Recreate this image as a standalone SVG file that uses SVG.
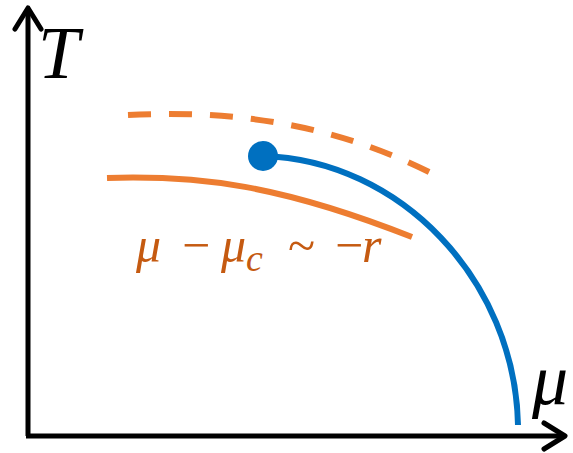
<svg xmlns="http://www.w3.org/2000/svg" width="573" height="453" viewBox="0 0 573 453">
<style>
.axis{stroke:#000;stroke-width:5;fill:none}
.head{stroke:#000;stroke-width:5;fill:none;stroke-linecap:round;stroke-linejoin:round}
.orange{stroke:#ED7D31;stroke-width:6;fill:none}
.blue{stroke:#0070C0;stroke-width:6;fill:none}
.lbl{font-family:"Liberation Serif","DejaVu Serif",serif;font-style:italic}
.lab{fill:#C55A11;font-family:"Liberation Serif","DejaVu Serif",serif;font-size:50px}
</style>
<rect width="573" height="453" fill="#fff"/>
<g id="axes">
<path class="axis" d="M28,436 V8 M26,436 H565"/>
<path class="head" d="M15,29 L28,8 L41,29"/>
<path class="head" d="M544,423 L565,436 L544,449"/>
</g>
<g id="connectors">
<path class="orange" stroke-dasharray="23 18" d="M128,115 C230,110 330,122 433,174"/>
<path class="orange" d="M107,178 C200,175 280,185 412,237"/>
<path class="blue" d="M263,156 C400,160 515,280 518,425"/>
</g>
<g id="critical-point">
<circle cx="263" cy="156" r="15" fill="#0070C0"/>
</g>
<g id="labels">
<text class="lbl" x="38" y="78" font-size="74">T</text>
<text class="lbl" x="532" y="404" font-size="72">μ</text>
<text class="lab"><tspan x="136" y="262" font-style="italic">μ</tspan><tspan x="182" y="262">−</tspan><tspan x="221" y="262" font-style="italic">μ</tspan><tspan x="246" y="271" font-size="38" font-style="italic">c</tspan><tspan x="288" y="262">~</tspan><tspan x="335" y="262">−</tspan><tspan x="362" y="262" font-style="italic">r</tspan></text>
</g>
</svg>
